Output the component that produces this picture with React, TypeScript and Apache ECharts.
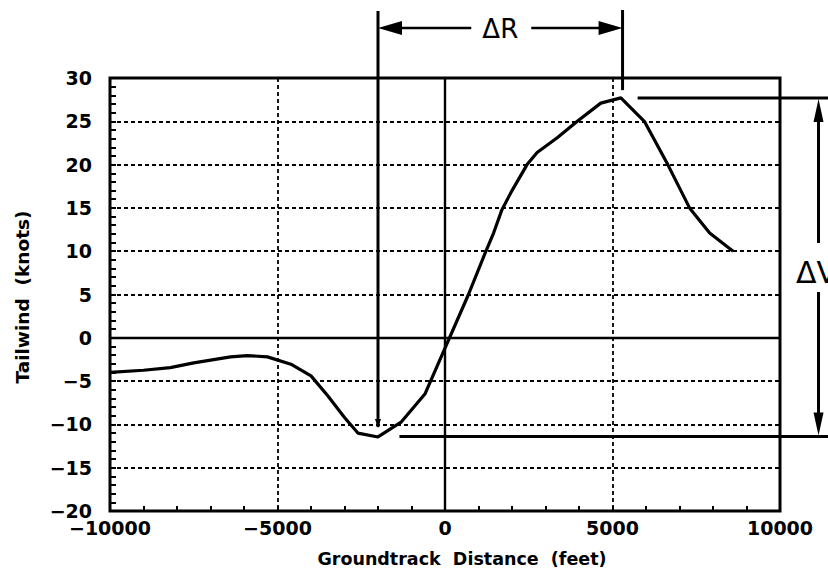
import React, { useEffect, useRef } from 'react';
import * as echarts from 'echarts';

// Groundtrack distance (feet) and tailwind (knots)
const distanceFt = [-10000, -9000, -8200, -7500, -6400, -5900, -5300, -4600, -4000, -3500, -3000, -2600, -2000, -1300, -600, 700, 1200, 1450, 1700, 2000, 2450, 2750, 3350, 3950, 4650, 5250, 5950, 6650, 7300, 7900, 8600];
const tailwindKt = [-4.0, -3.75, -3.45, -2.9, -2.2, -2.05, -2.2, -3.05, -4.4, -6.7, -9.2, -11.0, -11.45, -9.7, -6.5, 5.0, 9.8, 12.1, 14.8, 17.0, 20.0, 21.4, 23.1, 25.0, 27.1, 27.7, 25.0, 20.0, 15.0, 12.1, 10.0];

const xAxisRange = [-10000, 10000];
const xAxisStep = 5000;
const yAxisRange = [-20, 30];
const yAxisStep = 5;

// Annotation values (data units)
const deltaRFt = [-2000, 5300];
const deltaRBottomKt = [-10.3, 28.6];
const deltaVKt = [27.7, -11.4];
const deltaVStartFt = [5750, -1360];
const deltaVArrowFt = 11150;

const FONT = '"DejaVu Sans", Verdana, sans-serif';
const fmt = (v: number) => String(v).replace('-', '\u2212');

export default function App() {
  const ref = useRef<HTMLDivElement>(null);
  useEffect(() => {
    document.body.style.margin = '0';
    const chart = echarts.init(ref.current!, null, { renderer: 'svg' });
    const data = distanceFt.map((x, i) => [x, tailwindKt[i]]);
    chart.setOption({
      animation: false,
      backgroundColor: '#fff',
      grid: { left: 110, top: 78, width: 670, height: 433, show: true, borderColor: '#000', borderWidth: 3, backgroundColor: 'transparent' },
      xAxis: {
        type: 'value', min: xAxisRange[0], max: xAxisRange[1], interval: xAxisStep,
        axisLine: { show: false, onZero: false },
        axisTick: { show: true, inside: true, length: 5, lineStyle: { color: '#000', width: 2 } },
        minorTick: { show: true, splitNumber: 5, length: 5, lineStyle: { color: '#000', width: 2 } },
        splitLine: { show: true, showMinLine: false, showMaxLine: false, lineStyle: { color: '#000', width: 1.8, type: [4, 3] } },
        axisLabel: { margin: 10, lineHeight: 14, color: '#000', fontFamily: FONT, fontWeight: 'bold', fontSize: 19, formatter: fmt },
      },
      yAxis: {
        type: 'value', min: yAxisRange[0], max: yAxisRange[1], interval: yAxisStep,
        axisLine: { show: false, onZero: false },
        axisTick: { show: true, inside: true, length: 6, lineStyle: { color: '#000', width: 2 } },
        minorTick: { show: true, splitNumber: 5, length: 6, lineStyle: { color: '#000', width: 2 } },
        splitLine: { show: true, showMinLine: false, showMaxLine: false, lineStyle: { color: '#000', width: 1.8, type: [4, 3] } },
        axisLabel: { margin: 18, lineHeight: 14, color: '#000', fontFamily: FONT, fontWeight: 'bold', fontSize: 19, formatter: fmt },
      },
      series: [{
        type: 'line', data, showSymbol: false, symbol: 'none', z: 5,
        lineStyle: { color: '#000', width: 3.2 },
        markLine: {
          silent: true, symbol: ['none', 'none'], label: { show: false },
          lineStyle: { type: 'solid', color: '#000', width: 2.4 },
          data: [{ yAxis: 0 }, { xAxis: 0 }],
        },
      }],
    });

    const px = (x: number, y: number) => chart.convertToPixel({ gridIndex: 0 }, [x, y]) as number[];
    const line = (x1: number, y1: number, x2: number, y2: number, w = 3) => ({
      type: 'line', shape: { x1, y1, x2, y2 }, style: { stroke: '#000', lineWidth: w }, z: 10,
    });
    const tri = (pts: number[][]) => ({ type: 'polygon', shape: { points: pts }, style: { fill: '#000' }, z: 10 });

    const [lx, lBot] = px(deltaRFt[0], deltaRBottomKt[0]);
    const [rx, rBot] = px(deltaRFt[1], deltaRBottomKt[1]);
    const topY = 11;
    const arrowY = 28;
    const midX = (lx + rx) / 2;
    const [, vTop] = px(0, deltaVKt[0]);
    const [, vBot] = px(0, deltaVKt[1]);
    const [vTopStart] = px(deltaVStartFt[0], 0);
    const [vBotStart] = px(deltaVStartFt[1], 0);
    const [ax] = px(deltaVArrowFt, 0);
    const textY = 272;

    chart.setOption({
      graphic: [
        line(lx, topY, lx, lBot),
        tri([[lx - 3, lBot - 8], [lx + 3, lBot - 8], [lx, lBot + 1]]),
        line(rx, topY - 1, rx, rBot),
        line(lx + 20, arrowY, midX - 29, arrowY, 2.6),
        line(midX + 31, arrowY, rx - 20, arrowY, 2.6),
        tri([[lx, arrowY], [lx + 24, arrowY - 7], [lx + 24, arrowY + 7]]),
        tri([[rx, arrowY], [rx - 24, arrowY - 7], [rx - 24, arrowY + 7]]),
        {
          type: 'text', x: midX, y: arrowY + 1, z: 10,
          style: { text: '\u0394R', fill: '#000', fontFamily: FONT, fontSize: 26, align: 'center', verticalAlign: 'middle', textAlign: 'center', textVerticalAlign: 'middle' },
        },
        line(vTopStart, vTop, 828, vTop, 3),
        line(vBotStart, vBot, 828, vBot, 3),
        line(ax, vTop + 18, ax, textY - 29, 3),
        line(ax, textY + 20, ax, vBot - 18, 3),
        tri([[ax, vTop + 1], [ax - 5, vTop + 24], [ax + 5, vTop + 24]]),
        tri([[ax, vBot - 1], [ax - 5, vBot - 24], [ax + 5, vBot - 24]]),
        {
          type: 'text', x: 796, y: textY, z: 10,
          style: { text: '\u0394V', fill: '#000', fontFamily: FONT, fontSize: 30, align: 'left', verticalAlign: 'middle', textAlign: 'left', textVerticalAlign: 'middle' },
        },
        {
          type: 'text', x: 462, y: 559, z: 10,
          style: { text: 'Groundtrack  Distance  (feet)', fill: '#000', fontFamily: FONT, fontWeight: 'bold', fontSize: 17.5, align: 'center', verticalAlign: 'middle', textAlign: 'center', textVerticalAlign: 'middle' },
        },
        {
          type: 'text', x: 22, y: 297, rotation: Math.PI / 2, z: 10,
          style: { text: 'Tailwind  (knots)', fill: '#000', fontFamily: FONT, fontWeight: 'bold', fontSize: 18.5, align: 'center', verticalAlign: 'middle', textAlign: 'center', textVerticalAlign: 'middle' },
        },
      ],
    });
    return () => chart.dispose();
  }, []);
  return <div ref={ref} style={{ width: 828, height: 571 }} />;
}
